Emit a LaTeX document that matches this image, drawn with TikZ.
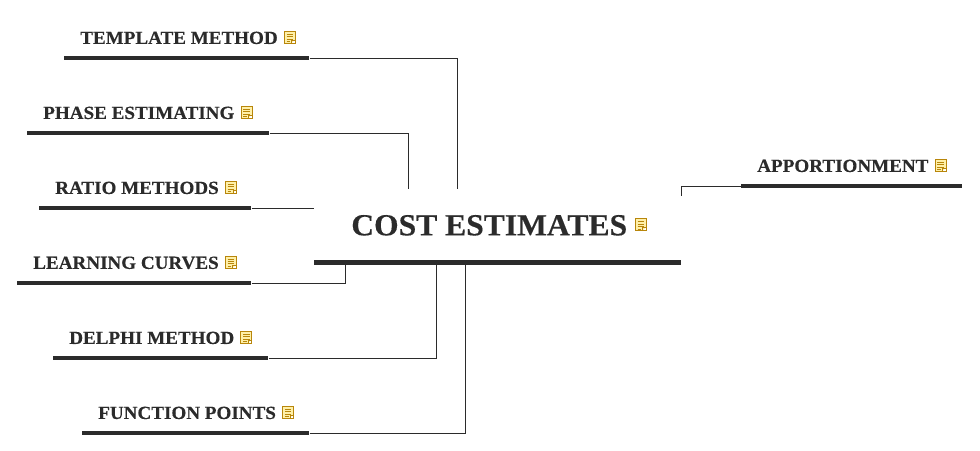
\documentclass[tikz,border=0pt]{standalone}
\usepackage{fontspec}
\setmainfont{Liberation Serif}[FakeStretch=1.03,BoldFeatures={FakeBold=0.35}]
\usetikzlibrary{calc,positioning}

\definecolor{ink}{HTML}{2B2B2B}
\definecolor{notefill}{HTML}{FFF0A8}
\definecolor{noteedge}{HTML}{B8860B}

\begin{document}
\begin{tikzpicture}[
    x=0.75pt, y=-0.75pt,
    topicbar/.style={fill=ink, inner sep=0pt, minimum height=3pt, minimum width=#1*0.75pt, anchor=west},
    corebar/.style={topicbar=#1, minimum height=3.75pt},
    topic/.style={font=\fontsize{13.9pt}{15pt}\bfseries\selectfont, text=ink, inner sep=0pt},
    core/.style={font=\fontsize{23pt}{26pt}\bfseries\selectfont, text=ink, inner sep=0pt},
    note/.style={draw=noteedge, line width=0.75pt, fill=notefill, inner sep=0pt,
        minimum width=8.25pt, minimum height=9pt,
        path picture={
            \draw[noteedge, line width=0.45pt]
                ($(path picture bounding box.north west)+(1.6pt,-2.2pt)$) -- ++(5pt,0)
                ($(path picture bounding box.north west)+(1.6pt,-4pt)$) -- ++(5pt,0)
                ($(path picture bounding box.north west)+(1.6pt,-5.8pt)$) -- ++(5pt,0)
                ($(path picture bounding box.north west)+(1.6pt,-7.6pt)$) -- ++(2.8pt,0);
            \fill[white] (path picture bounding box.south east) -- ++(-2.8pt,0) -- ++(2.8pt,2.8pt) -- cycle;
            \draw[noteedge, line width=0.45pt] ($(path picture bounding box.south east)+(-2.8pt,0)$) -- ++(0,2.4pt) -- ++(2.4pt,0);
        }},
    topicnote/.style={note, yshift=0.6pt},
    link/.style={draw=ink, line width=0.6pt}
]
\useasboundingbox (0,0) rectangle (980,450);

% central topic
\node[corebar=367] (costbar) at (314,262) {};
\node[core, above right=17.5pt and 27.75pt of costbar.north west] (cost) {COST ESTIMATES};
\node[note, right=5.6pt of cost, yshift=0.4pt] (costnote) {};

% left side
\node[topicbar=245] (templatebar) at (64,58) {};
\node[topic, above right=8.5pt and 12pt of templatebar.north west] (template) {TEMPLATE METHOD};
\node[topicnote, right=4.5pt of template] (templatenote) {};

\node[topicbar=242] (phasebar) at (27,133) {};
\node[topic, above right=8.5pt and 12pt of phasebar.north west] (phase) {PHASE ESTIMATING};
\node[topicnote, right=4.5pt of phase] (phasenote) {};

\node[topicbar=212] (ratiobar) at (39,208) {};
\node[topic, above right=8.5pt and 12pt of ratiobar.north west] (ratio) {RATIO METHODS};
\node[topicnote, right=4.5pt of ratio] (rationote) {};

\node[topicbar=234] (learnbar) at (17,283) {};
\node[topic, above right=8.5pt and 12pt of learnbar.north west] (learn) {LEARNING CURVES};
\node[topicnote, right=4.5pt of learn] (learnnote) {};

\node[topicbar=215] (delphibar) at (53,358) {};
\node[topic, above right=8.5pt and 12pt of delphibar.north west] (delphi) {DELPHI METHOD};
\node[topicnote, right=4.5pt of delphi] (delphinote) {};

\node[topicbar=227] (functionbar) at (82,433) {};
\node[topic, above right=8.5pt and 12pt of functionbar.north west] (function) {FUNCTION POINTS};
\node[topicnote, right=4.5pt of function] (functionnote) {};

% right side
\node[topicbar=221] (apportionbar) at (741,186) {};
\node[topic, above right=8.5pt and 12pt of apportionbar.north west] (apportion) {APPORTIONMENT};
\node[topicnote, right=4.5pt of apportion] (apportionnote) {};

% free ends at the central topic
\coordinate (costa) at (457,189);
\coordinate (costb) at (408,189);
\coordinate (costc) at (314,208);
\coordinate (costd) at (345,262);
\coordinate (coste) at (436,262);
\coordinate (costf) at (465,262);
\coordinate (costg) at (681,196);

\draw[link] (templatebar.east) -| (costa);
\draw[link] (phasebar.east) -| (costb);
\draw[link] (ratiobar.east) -- (costc);
\draw[link] (learnbar.east) -| (costd);
\draw[link] (delphibar.east) -| (coste);
\draw[link] (functionbar.east) -| (costf);
\draw[link] (apportionbar.west) -| (costg);

\end{tikzpicture}
\end{document}
